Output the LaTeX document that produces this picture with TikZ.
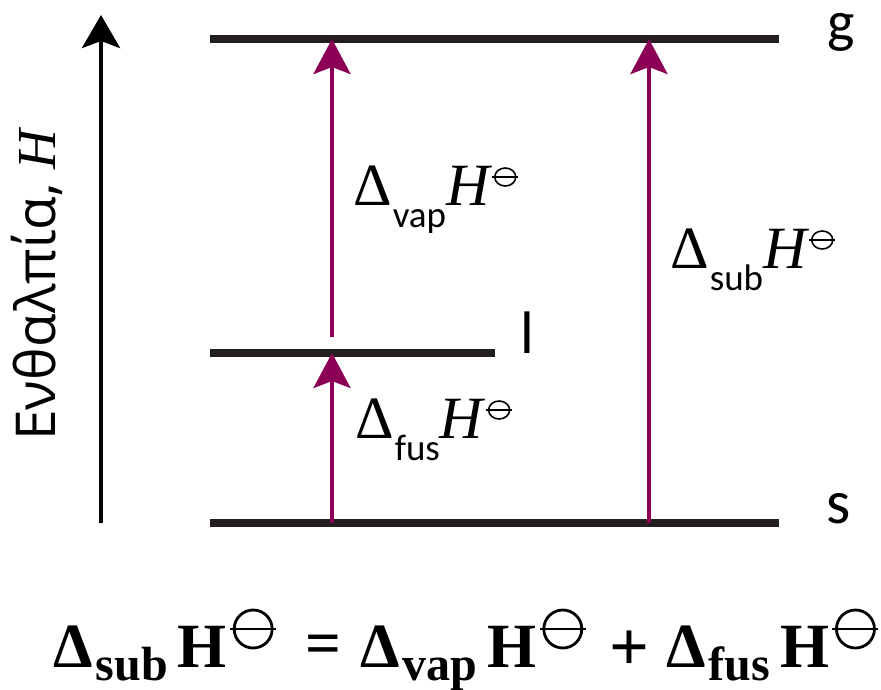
\documentclass[tikz,border=0pt]{standalone}
\usepackage{fontspec}
\usetikzlibrary{arrows.meta}
\setmainfont{Liberation Serif}
\newfontfamily\lab{Carlito}
\newfontfamily\grk{Open Sans}
\newfontfamily\ser{Liberation Serif}
\definecolor{plum}{RGB}{139,0,85}
\definecolor{lvl}{RGB}{35,31,32}
% standard-state symbol: ellipse radii, bar half-length, centre height, line width
\newcommand{\plim}[5]{\tikz[baseline=-#4,x=1pt,y=1pt]{\draw[line width=#5,black] (0,0) ellipse (#1 and #2); \draw[line width=#5,black] (-#3,0)--(#3,0);}}
\newcommand{\upl}[1]{{\ser\fontsize{60}{60}\selectfont Δ}\hspace{1pt}\raisebox{-22pt}{\lab\fontsize{37}{37}\selectfont #1}{\ser\itshape\fontsize{60}{60}\selectfont H}\hspace{2pt}\plim{10.5pt}{9pt}{13pt}{28pt}{1.6pt}}
\newcommand{\eqterm}[1]{{\bfseries\fontsize{63}{63}\selectfont Δ}\hspace{3pt}\raisebox{-13pt}{\bfseries\fontsize{48}{48}\selectfont #1}\hspace{10pt}{\bfseries\fontsize{63}{63}\selectfont H}\hspace{2pt}\plim{19pt}{19pt}{23pt}{38pt}{2.8pt}}
\begin{document}
\begin{tikzpicture}[x=1pt,y=-1pt,
  level/.style={line width=8pt,color=lvl},
  trans/.style={line width=4pt,color=plum,-{Stealth[length=35pt,width=37pt,inset=7pt]}},
  axis/.style={line width=4pt,color=black,-{Stealth[length=33pt,width=38pt,inset=7pt]}},
  lbl/.style={inner sep=0pt,anchor=base west},
  eq/.style={inner sep=0pt,anchor=base west}]
\useasboundingbox (0,0) rectangle (881,689);
% coordinates of levels
\coordinate (gL) at (210,39); \coordinate (gR) at (779,39);
\coordinate (lL) at (210,353); \coordinate (lR) at (495,353);
\coordinate (sL) at (210,523); \coordinate (sR) at (779,523);
\coordinate (a1s) at (332,523); \coordinate (a1l) at (332,353);
\coordinate (a2s) at (332,337); \coordinate (a2g) at (332,39);
\coordinate (a3s) at (649,523); \coordinate (a3g) at (649,39);
\coordinate (ax0) at (101,523); \coordinate (ax1) at (101,15);
% levels
\draw[level] (gL) -- (gR);
\draw[level] (lL) -- (lR);
\draw[level] (sL) -- (sR);
% axis
\draw[axis] (ax0) -- (ax1);
\node[inner sep=0pt,anchor=base,rotate=90] (ylab) at (55,285) {\grk\fontsize{55}{55}\selectfont Ενθαλπία, {\ser\itshape H}};
% transitions
\draw[trans] (a1s) -- (a1l);
\draw[trans] (a2s) -- (a2g);
\draw[trans] (a3s) -- (a3g);
% level labels
\node[lbl] (g) at (827,41) {\lab\fontsize{58}{58}\selectfont g};
\node[lbl] (l) at (520,353) {\lab\fontsize{60}{60}\selectfont l};
\node[lbl] (s) at (826,523) {\lab\fontsize{62}{62}\selectfont s};
% transition labels
\node[lbl] (vap) at (353,205) {\upl{vap}};
\node[lbl] (sub) at (670,268) {\upl{sub}};
\node[lbl] (fus) at (355,438) {\upl{fus}};
% equation
\node[eq] (t1) at (53,667) {\eqterm{sub}};
\node[inner sep=0pt,anchor=center] (eqs) at (323,650) {\bfseries\fontsize{63}{63}\selectfont =};
\node[eq] (t2) at (360,667) {\eqterm{vap}};
\node[inner sep=0pt,anchor=center] (pls) at (629,651) {\bfseries\fontsize{70}{70}\selectfont +};
\node[eq] (t3) at (666,667) {\eqterm{fus}};
\end{tikzpicture}
\end{document}
